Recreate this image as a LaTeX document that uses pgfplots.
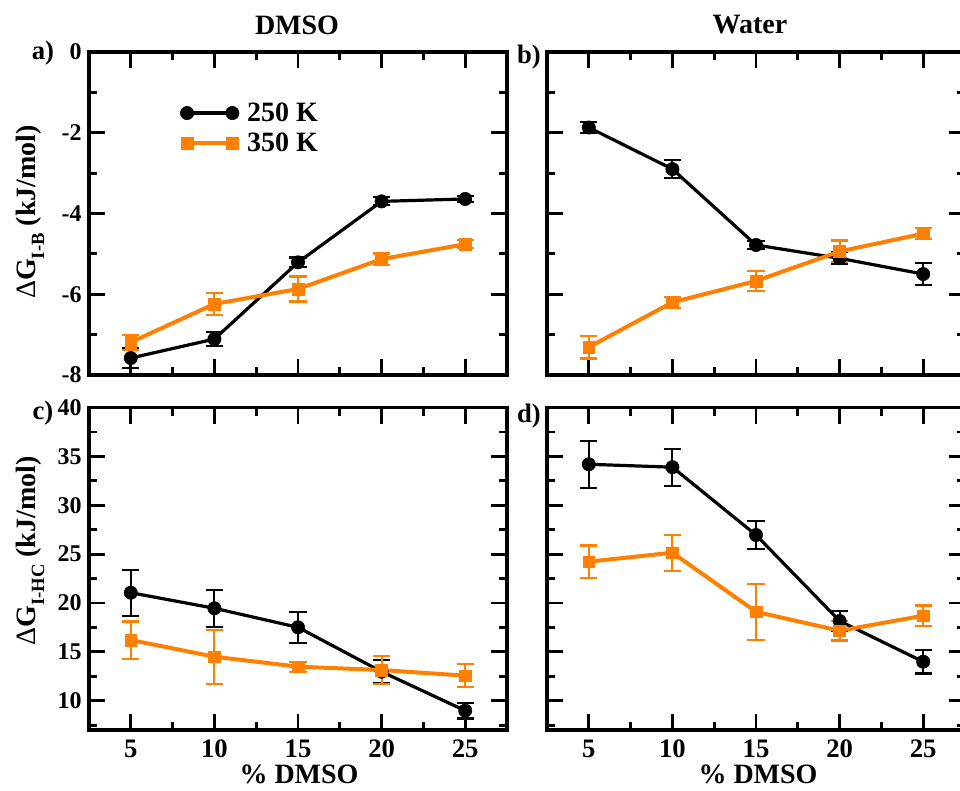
\documentclass[border=0pt]{standalone}
\usepackage{fontspec}
\setmainfont{Liberation Serif}
\usepackage{pgfplots}
\pgfplotsset{compat=1.18}
\definecolor{myorange}{RGB}{255,127,0}
\newcommand{\subtxt}[1]{\raisebox{-0.32em}{\fontsize{14}{14}\selectfont\bfseries #1}}
\pgfplotsset{
  panel/.style={
    scale only axis, width=313.5pt,
    xmin=2.5, xmax=27.5,
    xtick={5,10,15,20,25}, minor xtick={7.5,12.5,17.5,22.5},
    tick align=inside, major tick length=12pt, minor tick length=6pt,
    axis line style={line width=2.4pt},
    every tick/.style={line width=2.2pt, black},
    every minor tick/.style={line width=2.2pt, black},
    /pgf/number format/assume math mode=true,
    xticklabel style={font=\fontsize{20}{20}\selectfont\bfseries, yshift=-4pt},
    yticklabel style={font=\fontsize{18}{18}\selectfont\bfseries, xshift=-2pt},
    clip=false,
  },
  toprow/.style={height=242.25pt, ymin=-8, ymax=0, ytick={-8,-6,-4,-2,0}, minor ytick={-7,-5,-3,-1}, xticklabels={}},
  botrow/.style={height=241.8pt, ymin=7, ymax=40, ytick={10,15,20,25,30,35,40}, minor ytick={7.5,12.5,17.5,22.5,27.5,32.5,37.5}},
  s250/.style={black, line width=2.4pt, mark=*, mark size=5pt, mark options={solid, line width=0.4pt, fill=black}},
  s350/.style={myorange, line width=3pt, mark=square*, mark size=4.4pt, mark options={solid, line width=0.4pt, fill=myorange}},
  e250/.style={error bars/.cd, y dir=both, y explicit, error bar style={line width=1.6pt, black}, error mark options={rotate=90, mark size=6.5pt, line width=1.6pt, black}},
  e350/.style={error bars/.cd, y dir=both, y explicit, error bar style={line width=1.6pt, myorange}, error mark options={rotate=90, mark size=6.5pt, line width=1.6pt, myorange}},
}
\begin{document}
\begin{tikzpicture}
\useasboundingbox (0,0) rectangle (720pt,592.5pt);
\clip (0,0) rectangle (720pt,592.5pt);

% a) top left
\begin{axis}[panel, toprow, at={(66.75pt,311.25pt)}, anchor=south west,
  legend style={at={(0.218,0.852)}, anchor=north west, draw=none, fill=none,
    font=\fontsize{21}{21}\selectfont\bfseries, row sep=3pt, column sep=4pt, inner sep=0pt},
  legend cell align=left,
  legend image code/.code={\draw[#1] plot coordinates {(0pt,0pt) (34pt,0pt)};}]
\addplot[s250, e250] coordinates {
 (5,-7.58) +- (0,0.25)
 (10,-7.11) +- (0,0.18)
 (15,-5.21) +- (0,0.12)
 (20,-3.70) +- (0,0.10)
 (25,-3.64) +- (0,0.08)
};
\addlegendentry{250 K}
\addplot[s350, e350] coordinates {
 (5,-7.19) +- (0,0.19)
 (10,-6.24) +- (0,0.27)
 (15,-5.87) +- (0,0.31)
 (20,-5.13) +- (0,0.14)
 (25,-4.76) +- (0,0.10)
};
\addlegendentry{350 K}
\end{axis}

% b) top right
\begin{axis}[panel, toprow, yticklabels={}, at={(410.25pt,311.25pt)}, anchor=south west]
\addplot[s250, e250] coordinates {
 (5,-1.87) +- (0,0.13)
 (10,-2.90) +- (0,0.22)
 (15,-4.78) +- (0,0.10)
 (20,-5.11) +- (0,0.15)
 (25,-5.50) +- (0,0.28)
};
\addplot[s350, e350] coordinates {
 (5,-7.31) +- (0,0.28)
 (10,-6.20) +- (0,0.14)
 (15,-5.67) +- (0,0.24)
 (20,-4.94) +- (0,0.27)
 (25,-4.50) +- (0,0.14)
};
\end{axis}

% c) bottom left
\begin{axis}[panel, botrow, at={(66.75pt,45pt)}, anchor=south west]
\addplot[s250, e250] coordinates {
 (5,21.05) +- (0,2.35)
 (10,19.46) +- (0,1.9)
 (15,17.51) +- (0,1.6)
 (20,12.97) +- (0,1.2)
 (25,8.98) +- (0,0.8)
};
\addplot[s350, e350] coordinates {
 (5,16.21) +- (0,1.9)
 (10,14.50) +- (0,2.75)
 (15,13.48) +- (0,0.5)
 (20,13.14) +- (0,1.4)
 (25,12.56) +- (0,1.2)
};
\end{axis}

% d) bottom right
\begin{axis}[panel, botrow, yticklabels={}, at={(410.25pt,45pt)}, anchor=south west]
\addplot[s250, e250] coordinates {
 (5,34.2) +- (0,2.4)
 (10,33.9) +- (0,1.9)
 (15,26.96) +- (0,1.4)
 (20,18.16) +- (0,1.0)
 (25,13.99) +- (0,1.2)
};
\addplot[s350, e350] coordinates {
 (5,24.23) +- (0,1.65)
 (10,25.15) +- (0,1.85)
 (15,19.10) +- (0,2.85)
 (20,17.16) +- (0,1.0)
 (25,18.70) +- (0,1.05)
};
\end{axis}

% titles and labels
\node[font=\fontsize{21}{21}\selectfont\bfseries] at (222.75pt,573.75pt) {DMSO};
\node[font=\fontsize{21}{21}\selectfont\bfseries] at (562.5pt,573.75pt) {Water};
\node[font=\fontsize{20}{20}\selectfont\bfseries] at (32.25pt,552.75pt) {a)};
\node[font=\fontsize{20}{20}\selectfont\bfseries] at (396.75pt,549.75pt) {b)};
\node[font=\fontsize{20}{20}\selectfont\bfseries] at (32.25pt,282.75pt) {c)};
\node[font=\fontsize{20}{20}\selectfont\bfseries] at (396.75pt,280.5pt) {d)};
\node[font=\fontsize{21}{21}\selectfont\bfseries] at (224.25pt,11.5pt) {\% DMSO};
\node[font=\fontsize{21}{21}\selectfont\bfseries] at (568.5pt,11.5pt) {\% DMSO};
\node[rotate=90, font=\fontsize{21}{21}\selectfont\bfseries] at (22.5pt,433.5pt) {{\mdseries Δ}G\subtxt{I-B} (kJ/mol)};
\node[rotate=90, font=\fontsize{21}{21}\selectfont\bfseries] at (22.5pt,179.25pt) {{\mdseries Δ}G\subtxt{I-HC} (kJ/mol)};
\end{tikzpicture}
\end{document}
